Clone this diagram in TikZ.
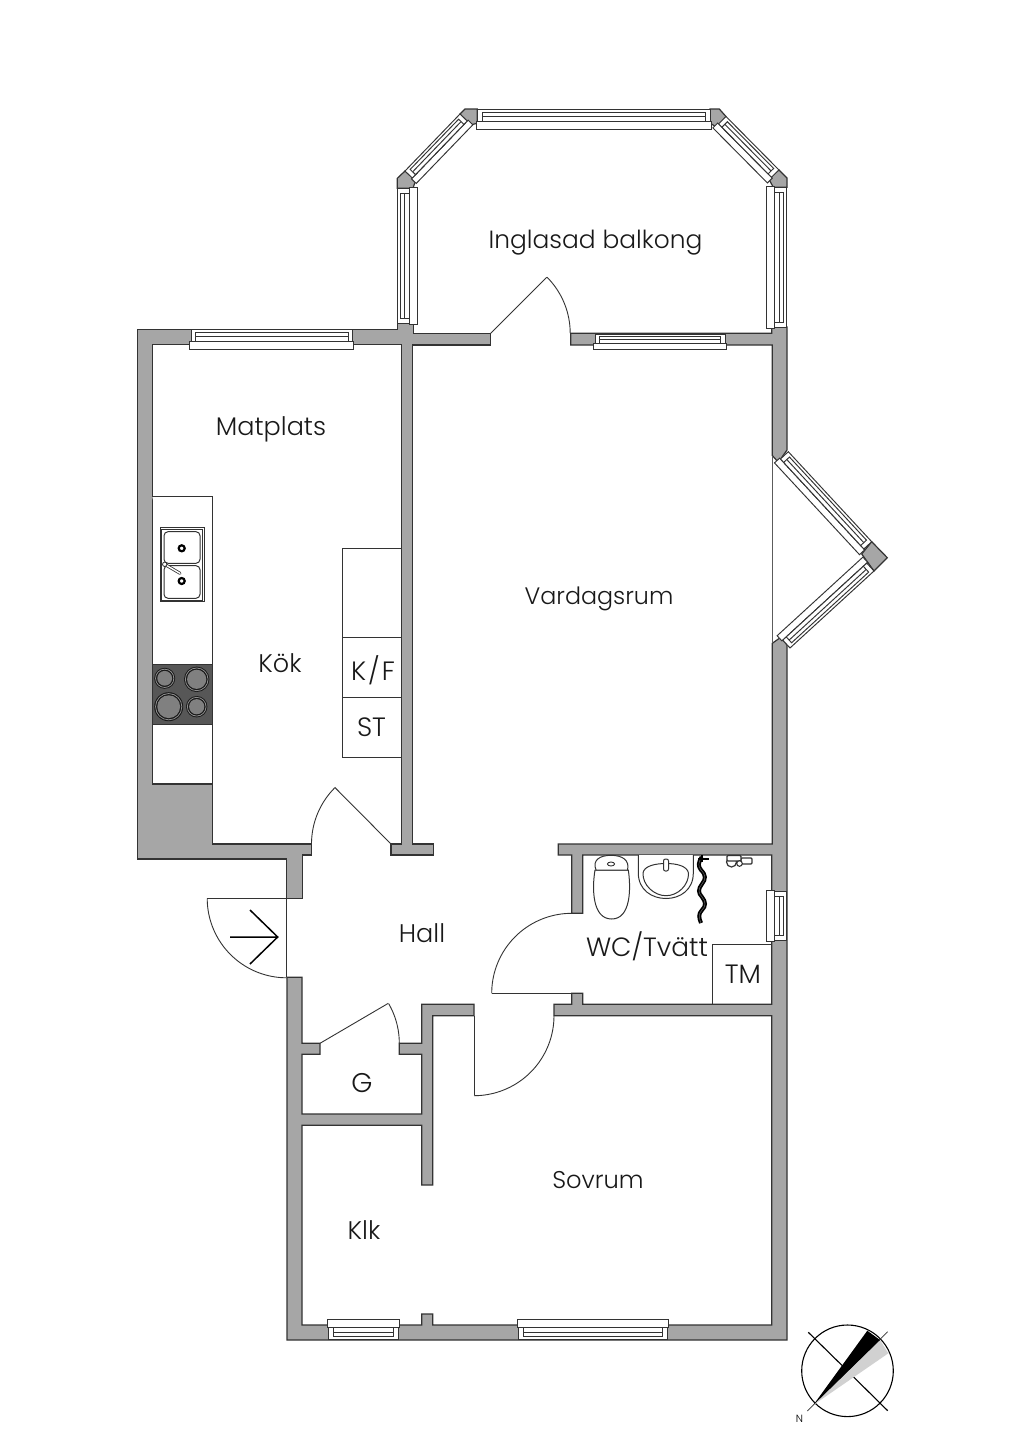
\documentclass[tikz,border=0pt]{standalone}
\usepackage{fontspec}
\setmainfont{Poppins Light}
\definecolor{wallg}{HTML}{A6A6A6}
\definecolor{ink}{HTML}{333333}
\tikzset{
 wall/.style={fill=wallg,draw=ink,line width=1.2pt,line join=miter},
 thin line/.style={draw=ink,line width=0.9pt},
 fixture/.style={draw=ink,line width=1pt,fill=white},
 label/.style={text=black!90,inner sep=0pt},
 glass/.style={draw=ink,line width=0.95pt,fill=white},
}
\newcommand{\fs}[1]{\fontsize{#1}{#1}\selectfont}
\newcommand{\drawwin}[5]{%
 \pgfmathsetmacro\winA{atan2(#4-#2,#3-#1)}%
 \pgfmathsetmacro\winL{veclen(#3-#1,#4-#2)}%
 \pgfmathsetmacro\winR{\winL-4.7}%
 \pgfmathsetmacro\winQ{\winL+1.2}%
 \begin{scope}[shift={(#1,#2)},rotate={-(\winA)},yscale=#5]
  \path[glass] (-1.2,12.3) rectangle (\winQ,20.4);
  \path[glass] (0,0) rectangle (\winL,12.3);
  \draw[glass] (4.7,3.2) rectangle (\winR,12.3);
  \draw[glass] (4.7,7.4) -- (\winR,7.4);
 \end{scope}}
\newcommand{\doorarc}[5]{% cx cy r a b
 \draw[thin line] plot[smooth,domain=#4:#5,samples=25,variable=\t]({#1+#3*cos(\t)},{#2+#3*sin(\t)});}
\newcommand{\burner}[3]{%
 \fill[black!90] (#1,#2) circle[radius=#3 pt];
 \draw[black!45,line width=0.9pt] (#1,#2) circle[radius=#3 pt - 1.4pt];
 \draw[black!90,line width=1.1pt] (#1,#2) circle[radius=#3 pt - 2.6pt];
 \fill[black!50] (#1,#2) circle[radius=#3 pt - 3.1pt];}
\begin{document}
\begin{tikzpicture}[x=1pt,y=-1pt]
\useasboundingbox[fill=white] (0,0) rectangle (1024,1448);

% walls
\path[wall] (286.7,898.3)--(286.7,859)--(137.3,859)--(137.3,329.5)--(397.3,329.5)--(397.3,323)--(413.3,323)--(413.3,333.3)--(490.7,333.3)--(490.7,345)--(412.7,345)--(412.7,844)--(433.3,844)--(433.3,855)--(391,855)--(391,844)--(401.7,844)--(401.7,344.5)--(152.3,344.5)--(152.3,784)--(212.3,784)--(212.3,844)--(311.7,844)--(311.7,855)--(302.3,855)--(302.3,898.3)--cycle;
\path[wall] (570.7,333.3)--(771.7,333.3)--(771.7,327)--(787,327)--(787,450)--(778.3,462.3)--(772.3,455.5)--(772.3,345)--(570.7,345)--cycle;
\path[wall] (772.3,643.3)--(780.7,637.3)--(787,645)--(787,1340)--(287,1340)--(287,977.3)--(302,977.3)--(302,1043.3)--(320,1043.3)--(320,1054.3)--(302,1054.3)--(302,1114)--(421.7,1114)--(421.7,1054.3)--(399.3,1054.3)--(399.3,1043.3)--(421.7,1043.3)--(421.7,1004.3)--(474,1004.3)--(474,1015.7)--(432.7,1015.7)--(432.7,1185)--(421.7,1185)--(421.7,1125.3)--(302,1125.3)--(302,1325)--(421.7,1325)--(421.7,1314)--(432.7,1314)--(432.7,1325)--(771.7,1325)--(771.7,1015.7)--(554,1015.7)--(554,1004.3)--(571.7,1004.3)--(571.7,993.3)--(582.7,993.3)--(582.7,1004.3)--(771.7,1004.3)--(771.7,855)--(582.7,855)--(582.7,913.3)--(571.7,913.3)--(571.7,855)--(558.3,855)--(558.3,844)--(772.3,844)--cycle;
\draw[ink!80,line width=1.2pt] (772.3,455.5)--(772.3,643.3);

% balcony and bay corner posts
\path[wall] (465,109)--(477.3,109)--(477.3,123.3)--(470,125)--(460,114)--cycle;
\path[wall] (710,109)--(719.3,109)--(726,116.5)--(716.7,127.3)--(710,123)--cycle;
\path[wall] (405,171)--(415.7,180)--(413,188.3)--(397.3,188.3)--(397.3,178.3)--cycle;
\path[wall] (779,170)--(787,178)--(787,187.3)--(773.3,187.3)--(768.3,178)--cycle;
\path[wall] (871.7,541.7)--(887.3,557.7)--(874,571)--(861.7,554)--cycle;

% windows
\drawwin{191}{329.5}{352.7}{329.5}{1}
\drawwin{595}{334}{725}{334}{0.75}
\drawwin{477.3}{109}{710}{109}{1}
\drawwin{405}{171}{460}{114}{0.82}
\drawwin{726}{116.5}{779}{170}{0.85}
\drawwin{786.7}{187.3}{786.7}{327}{1}
\drawwin{397.3}{323}{397.3}{188.3}{1}
\drawwin{788.3}{451.7}{871.7}{541.7}{0.87}
\drawwin{874}{571}{790}{648}{0.87}
\drawwin{667.3}{1339.6}{518.3}{1339.6}{1}
\drawwin{398.3}{1339.6}{328.3}{1339.6}{1}
\drawwin{786.7}{891.7}{786.7}{940}{1}

% doors
\draw[thin line] (490.7,333.3)--(546.7,277.3);
\doorarc{490.7}{333.3}{79.5}{-45}{0}
\draw[thin line] (391,844)--(334.7,787.3);
\doorarc{391}{844}{79.5}{180}{225}
\draw[thin line] (286.7,898.3)--(207,898.3);
\draw[thin line] (286.7,898.3)--(286.7,977.3);
\doorarc{286.7}{898.3}{79.5}{90}{180}
\draw[thin line] (320,1043.3)--(388.3,1003.3);
\doorarc{320}{1043.3}{79.3}{-30}{0}
\draw[thin line] (474,1015.7)--(474,1095.3);
\doorarc{474}{1015.7}{80}{0}{90}
\draw[thin line] (571.7,993.3)--(491.7,993.3);
\doorarc{571.7}{993.3}{80}{180}{270}
\draw[black,line width=1.5pt] (230,937)--(277.7,937) (250,910)--(277.7,937)--(250,964);

% kitchen
\draw[fixture] (152.3,496.7)--(212.3,496.7)--(212.3,784);
\draw[fixture,fill=none] (342,757.3)--(342,548.3)--(401.7,548.3);
\draw[fixture,fill=none] (342,637.3)--(401.7,637.3) (342,697.3)--(401.7,697.3) (342,757.3)--(401.7,757.3);
\path[draw=ink,fill=black!66,line width=1pt] (152.3,664) rectangle (212.3,724.3);
\burner{164.7}{678.3}{10.5}
\burner{196.7}{679.3}{12.7}
\burner{168.7}{706.7}{14.5}
\burner{196.7}{706.7}{10.7}
% sink
\draw[fixture] (160,527.3) rectangle (204.3,601.7);
\draw[fixture,line width=0.7pt] (161.6,528.9) rectangle (202.7,600.1);
\draw[fixture,rounded corners=4pt] (164,531.7) rectangle (200,563.3);
\draw[fixture,rounded corners=4pt] (164,565.7) rectangle (200,598.3);
\draw[black,line width=2.2pt,fill=white] (181.7,548.3) circle[radius=3pt];
\draw[black,line width=2.2pt,fill=white] (181.7,581) circle[radius=3pt];
\draw[ink,line width=3pt,line cap=round] (164.7,564.3)--(180,573.3);
\draw[white,line width=1.4pt,line cap=round] (164.7,564.3)--(180,573.3);
\draw[ink,line width=0.8pt,fill=white] (164.7,564.3) circle[radius=2.2pt];

% WC fixtures
\draw[fixture] (638.3,855)--(638.3,873) .. controls (638.3,890) and (652,898.5) .. (666,898.5) .. controls (680,898.5) and (693.3,890) .. (693.3,873)--(693.3,855);
\draw[fixture] (643,873) .. controls (644,866) and (655,863.5) .. (666,863.5) .. controls (677,863.5) and (687,866) .. (688.5,873) .. controls (689,885) and (678,895.7) .. (666,895.7) .. controls (654,895.7) and (642.5,885) .. (643,873)--cycle;
\draw[fixture,rounded corners=2pt] (663.5,859) rectangle (668.5,871);
\draw[fixture] (595,870) .. controls (592,888) and (592,919) .. (611.7,919) .. controls (631,919) and (631,888) .. (628.3,870)--cycle;
\draw[fixture] (596,870) .. controls (592,860) and (600,855.3) .. (611,855.3) .. controls (622,855.3) and (630,860) .. (627.5,870)--cycle;
\draw[fixture,line width=0.9pt] (611,864) ellipse[x radius=3.6pt,y radius=2pt];
% shower hose
\draw[black,line width=4pt] (701.7,857)
 .. controls (698,863) and (698,866) .. (701,870)
 .. controls (706,875) and (706,879) .. (702,884)
 .. controls (698,889) and (698,893) .. (702,897)
 .. controls (706,902) and (706,906) .. (702,910)
 .. controls (698,914) and (699,918) .. (701,923);
\draw[black!60,line width=0.5pt] (701.7,857)
 .. controls (698,863) and (698,866) .. (701,870)
 .. controls (706,875) and (706,879) .. (702,884)
 .. controls (698,889) and (698,893) .. (702,897)
 .. controls (706,902) and (706,906) .. (702,910)
 .. controls (698,914) and (699,918) .. (701,923);
\draw[black,line width=2pt] (698,858.5)--(709,858.5);
\draw[black,line width=2.4pt] (701.7,855)--(701.7,862);
% tap
\draw[ink,line width=1.2pt,fill=white,rounded corners=1pt] (741,858) rectangle (752,864);
\draw[ink,line width=1.2pt,fill=white] (731.5,862) circle[radius=5pt];
\draw[ink,line width=1.2pt,fill=white,rounded corners=1pt] (727,855.5) rectangle (741,861);
\draw[ink,line width=1.1pt,fill=white] (739.5,863.5) circle[radius=2.8pt];
\draw[fixture,fill=none] (771.7,944.3)--(712.3,944.3)--(712.3,1004.3);

% compass
\draw[black,line width=1.1pt] (847.5,1370.8) circle[radius=45.8pt];
\draw[black,line width=1.1pt] (808.3,1332.3)--(842.3,1365.7) (853.3,1376.7)--(887.7,1410.7);
\draw[black!80,line width=0.7pt] (807.3,1411)--(887.7,1331.7);
\fill[black!18] (813.3,1405)--(880,1340)--(888.3,1353.3)--cycle;
\fill[black] (813.3,1405)--(867.3,1330.7)--(880,1340)--cycle;

% labels
\node[label,font=\fs{24.9}] (balkong) at (595.5,243) {Inglasad balkong};
\node[label,font=\fs{25.5}] (matplats) at (271,429) {Matplats};
\node[label,font=\fs{25.5}] (kok) at (280,663) {Kök};
\node[label,font=\fs{26.5}] (kf) at (373,670) {K\kern2pt/\kern2pt F};
\node[label,font=\fs{26.5}] (st) at (371.5,727.5) {ST};
\node[label,font=\fs{23.8}] (vardagsrum) at (599,599) {Vardagsrum};
\node[label,font=\fs{25.5}] (hall) at (422,933) {Hall};
\node[label,font=\fs{26.4}] (wc) at (647,946) {WC/Tvätt};
\node[label,font=\fs{26.5}] (tm) at (743,974.5) {TM};
\node[label,font=\fs{27}] (g) at (362,1083.5) {G};
\node[label,font=\fs{24.2}] (sovrum) at (598,1180.5) {Sovrum};
\node[label,font=\fs{25.5}] (klk) at (364,1230) {Klk};
\node[font=\fs{10.5},inner sep=0pt] (north) at (799.5,1419) {N};
\end{tikzpicture}
\end{document}
